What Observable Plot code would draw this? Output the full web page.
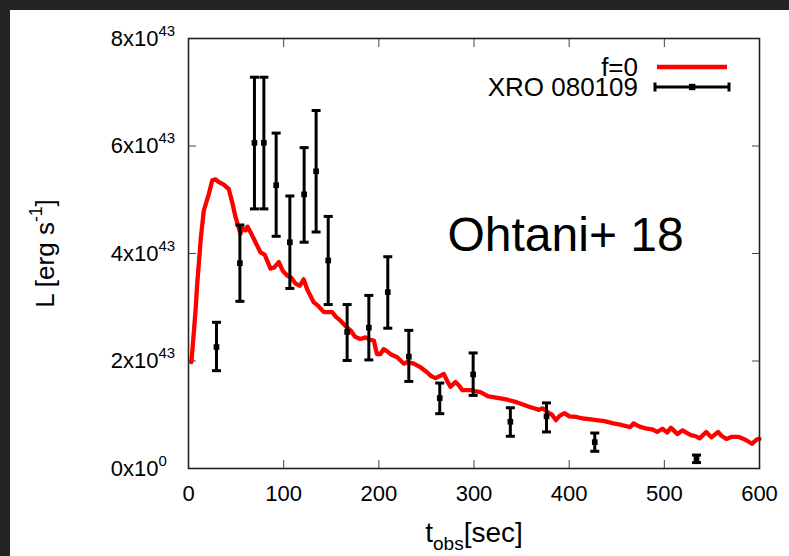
<!DOCTYPE html>
<html><head><meta charset="utf-8">
<script src="https://cdn.jsdelivr.net/npm/d3@7"></script>
<script src="https://cdn.jsdelivr.net/npm/@observablehq/plot@0.6"></script>
<style>
html,body{margin:0;padding:0;background:#242424;width:789px;height:556px;overflow:hidden}
#chart{position:absolute;left:10px;top:10px;width:779px;height:546px;background:#fff}
svg text{font-family:"Liberation Sans",Arial,sans-serif}
</style></head><body><div id="chart"></div>
<script>
// ---- data ----
const xTicks = [0, 100, 200, 300, 400, 500, 600];
const yTicks = [0, 2, 4, 6, 8];
const yTickLabels = ["0x10^{0}", "2x10^{43}", "4x10^{43}", "6x10^{43}", "8x10^{43}"];
const xLabel = "t_{obs}[sec]";
const yLabel = "L [erg s^{-1}]";
const seriesNames = ["f=0", "XRO 080109"];
const annotation = "Ohtani+ 18";

// model curve f=0 (L in units of 1e43 erg/s)
const modelT = [3,5,7.4,9,10.8,13,16.1,21.4,25,28.5,31.8,37,42.3,46,49.4,54.6,57,59.9,62,65.1,70.4,75.7,80,86.2,90,94.9,99,103.7,108,112.4,117,121,125,131.7,136,142.2,151,155,159.7,165,170.2,175,180.7,186,190,194.7,198,201.7,205,208.8,213,219.3,226.3,230,236.8,244,250,255,259.5,264,268.3,272,275.3,280.5,284,287.6,296.3,300.9,306.8,315,320,329.3,335,343.5,350,357.7,363,368.3,372,378.9,382,386,390,395,400.2,407,414.4,421,428.6,437,446.3,455,464.1,467.6,474,481.8,487,492.6,497.9,503.2,506.8,513.8,519.2,524,528,533,537,544,549.4,556.5,560,565.3,571,577.7,582,586.6,592,597.3,600];
const modelL = [1.98,2.4,2.94,3.4,3.8,4.3,4.8,5.11,5.36,5.38,5.33,5.28,5.2,4.95,4.68,4.37,4.47,4.43,4.5,4.4,4.21,4.02,3.98,3.72,3.74,3.84,3.68,3.59,3.55,3.44,3.4,3.52,3.32,3.09,3.03,2.91,2.91,2.82,2.75,2.65,2.57,2.45,2.41,2.44,2.4,2.38,2.13,2.13,2.22,2.18,2.12,2.07,1.95,1.98,1.95,1.88,1.8,1.72,1.68,1.72,1.76,1.62,1.52,1.61,1.55,1.46,1.46,1.44,1.42,1.34,1.33,1.3,1.28,1.24,1.2,1.15,1.12,1.09,1.12,1.03,1.0,0.9,0.98,1.03,0.97,0.96,0.93,0.92,0.9,0.88,0.84,0.81,0.77,0.84,0.78,0.74,0.73,0.68,0.74,0.67,0.76,0.64,0.71,0.66,0.62,0.6,0.56,0.68,0.58,0.68,0.61,0.55,0.59,0.59,0.56,0.52,0.46,0.54,0.55];

// observed XRO 080109 (L in units of 1e43 erg/s)
const obsT  = [29.4,54,69.3,79.2,92.1,106.5,121.5,134.1,146.8,166.7,189.5,209.4,231.5,264,299.1,338.2,376.2,426.9,533.8];
const obsL  = [2.26,3.82,6.06,6.06,5.27,4.21,5.10,5.53,3.87,2.54,2.62,3.28,2.08,1.31,1.75,0.87,0.97,0.49,0.18];
const obsLo = [1.82,3.11,4.83,4.83,4.32,3.35,4.21,4.40,3.05,2.01,2.02,2.61,1.62,1.02,1.36,0.60,0.68,0.32,0.11];
const obsHi = [2.72,4.53,7.28,7.28,6.24,5.07,5.97,6.66,4.69,3.05,3.22,3.94,2.57,1.59,2.15,1.13,1.22,0.66,0.25];

// ---- build tables ----
const model = modelT.map((t, i) => ({t, L: modelL[i]}));
const obs = obsT.map((t, i) => ({t, L: obsL[i], lo: obsLo[i], hi: obsHi[i]}));

const capSymbol = {draw(ctx, size) { const w = 4.5; ctx.moveTo(-w, 0); ctx.lineTo(w, 0); }};

const W = 779, H = 546;
const FS = 22;
const plot = Plot.plot({
  width: W, height: H,
  marginLeft: 178, marginRight: 30, marginTop: 28, marginBottom: 88,
  x: {domain: [0, 600]},
  y: {domain: [0, 8]},
  style: {background: "transparent", fontFamily: "Liberation Sans, Arial, sans-serif", fontSize: FS + "px", color: "#000", overflow: "visible"},
  marks: [
    Plot.axisX({ticks: xTicks, tickSize: 0, tickPadding: 17, tickFormat: d => String(d), label: null, fontSize: FS}),
    Plot.axisX({ticks: xTicks, tickSize: -8, fill: "none", label: null, stroke: "#444"}),
    Plot.axisX({anchor: "top", ticks: xTicks, tickSize: -8, fill: "none", label: null, stroke: "#444"}),
    Plot.axisY({ticks: yTicks, tickSize: 0, tickPadding: 30, tickFormat: d => yTickLabels[yTicks.indexOf(d)], label: null, fontSize: FS}),
    Plot.axisY({ticks: yTicks, tickSize: -8, fill: "none", label: null, stroke: "#444"}),
    Plot.axisY({anchor: "right", ticks: yTicks, tickSize: -8, fill: "none", label: null, stroke: "#444"}),
    Plot.line(model, {x: "t", y: "L", stroke: "#ff0000", strokeWidth: 4.3, strokeLinejoin: "round"}),
    Plot.ruleX(obs, {x: "t", y1: "lo", y2: "hi", stroke: "#000", strokeWidth: 3}),
    Plot.dot(obs, {x: "t", y: "hi", symbol: capSymbol, stroke: "#000", strokeWidth: 3, r: 4}),
    Plot.dot(obs, {x: "t", y: "lo", symbol: capSymbol, stroke: "#000", strokeWidth: 3, r: 4}),
    Plot.dot(obs, {x: "t", y: "L", symbol: "square", fill: "#000", r: 3.2}),
    Plot.frame({stroke: "#222", strokeWidth: 1.6}),
    Plot.text([xLabel], {frameAnchor: "bottom", dy: 73, textAnchor: "middle", lineAnchor: "bottom", fontSize: 28, fill: "#000"}),
    Plot.text([yLabel], {frameAnchor: "left", dx: -135, rotate: -90, textAnchor: "middle", lineAnchor: "bottom", fontSize: 26, fill: "#000"}),
    Plot.text([annotation], {frameAnchor: "top-left", dx: 259, dy: 212, textAnchor: "start", lineAnchor: "bottom", fontSize: 48, fill: "#000"})
  ]
});
document.getElementById("chart").appendChild(plot);

// ---- rich text: ^{sup} and _{sub} ----
function richify(el) {
  const s = el.textContent;
  if (!/[\^_]\{/.test(s)) return null;
  const fs = parseFloat(getComputedStyle(el).fontSize) || FS;
  const small = fs * 0.68;
  const parts = [];
  const re = /([\^_])\{([^}]*)\}/g;
  let last = 0, m;
  while ((m = re.exec(s))) {
    if (m.index > last) parts.push({t: s.slice(last, m.index), k: ""});
    parts.push({t: m[2], k: m[1]});
    last = re.lastIndex;
  }
  if (last < s.length) parts.push({t: s.slice(last), k: ""});
  const target = el.querySelector("tspan") || el;
  target.textContent = "";
  let shift = 0, lastSpan = null;
  for (const p of parts) {
    const ts = document.createElementNS("http://www.w3.org/2000/svg", "tspan");
    let want = p.k === "^" ? -fs * 0.45 : p.k === "_" ? fs * 0.3 : 0;
    ts.setAttribute("dy", (want - shift).toFixed(2));
    shift = want;
    if (p.k) ts.setAttribute("font-size", small.toFixed(1));
    ts.textContent = p.t;
    target.appendChild(ts);
    lastSpan = {ts, k: p.k};
  }
  return lastSpan;
}
const yTickSet = new Set(yTickLabels);
d3.select(plot).selectAll("text").each(function() {
  const isYTick = yTickSet.has(this.textContent);
  const lastSpan = richify(this);
  // y tick labels: right-align the base part; the exponent hangs past it
  if (isYTick && lastSpan && lastSpan.k === "^") {
    const w = lastSpan.ts.getComputedTextLength();
    const tr = this.getAttribute("transform") || "";
    this.setAttribute("transform", tr + ` translate(${w.toFixed(2)},0)`);
  }
});

// ---- legend ----
const xsR = plot.scale("x").range, ysR = plot.scale("y").range;
const frameRight = Math.max(...xsR), frameTop = Math.min(...ysR);
const svgSel = d3.select(plot);
const LFS = 26;
const lg = svgSel.append("g").attr("font-size", LFS).attr("fill", "#000");
const rows = [frameTop + 29, frameTop + 49];
lg.append("text").attr("x", frameRight - 121).attr("y", rows[0]).attr("dy", "0.35em").attr("text-anchor", "end").text(seriesNames[0]);
lg.append("text").attr("x", frameRight - 121).attr("y", rows[1]).attr("dy", "0.35em").attr("text-anchor", "end").text(seriesNames[1]);
lg.append("line").attr("x1", frameRight - 102).attr("x2", frameRight - 32).attr("y1", rows[0]).attr("y2", rows[0]).attr("stroke", "#ff0000").attr("stroke-width", 4.3);
lg.append("line").attr("x1", frameRight - 104).attr("x2", frameRight - 30).attr("y1", rows[1]).attr("y2", rows[1]).attr("stroke", "#000").attr("stroke-width", 3);
for (const x of [frameRight - 104, frameRight - 30]) lg.append("line").attr("x1", x).attr("x2", x).attr("y1", rows[1] - 4.5).attr("y2", rows[1] + 4.5).attr("stroke", "#000").attr("stroke-width", 3);
lg.append("rect").attr("x", frameRight - 70).attr("y", rows[1] - 3.2).attr("width", 6.4).attr("height", 6.4).attr("fill", "#000");
</script></body></html>
